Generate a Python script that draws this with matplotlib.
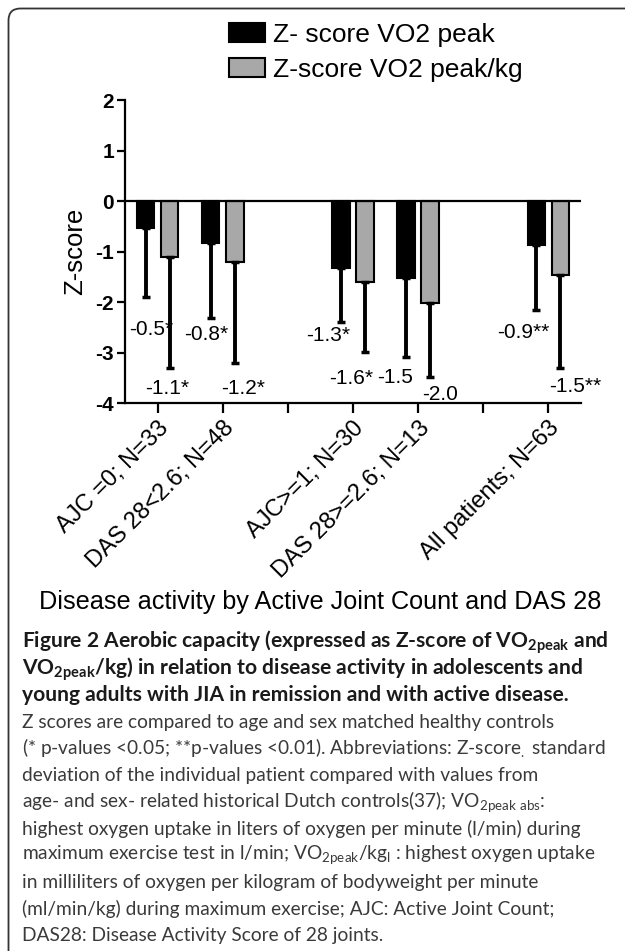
import numpy as np
import matplotlib
matplotlib.use("Agg")
import matplotlib.pyplot as plt
from matplotlib.patches import FancyBboxPatch

plt.rcParams['font.family'] = ['Liberation Sans', 'DejaVu Sans']
plt.rcParams['axes.unicode_minus'] = False
plt.rcParams['mathtext.fontset'] = 'custom'
plt.rcParams['mathtext.rm'] = 'Lato'
plt.rcParams['mathtext.bf'] = 'Lato:bold'

# groups on the x axis (blank slots are gaps between groups)
categories = ["AJC =0; N=33", "DAS 28<2.6; N=48", "", "AJC>=1; N=30", "DAS 28>=2.6; N=13", "", "All patients; N=63"]
group_slots = [0, 1, 3, 4, 6]

# Z-score VO2 peak (black) and VO2 peak/kg (grey), mean and lower end of the error bar
vo2_mean = [-0.53, -0.83, -1.33, -1.53, -0.88]
vo2_low = [-1.91, -2.31, -2.40, -3.09, -2.16]
vo2kg_mean = [-1.11, -1.21, -1.60, -2.01, -1.47]
vo2kg_low = [-3.31, -3.21, -2.99, -3.49, -3.30]

vo2_labels = ["-0.5*", "-0.8*", "-1.3*", "-1.5", "-0.9**"]
vo2kg_labels = ["-1.1*", "-1.2*", "-1.6*", "-2.0", "-1.5**"]

series_names = ["Z- score VO2 peak", "Z-score VO2 peak/kg"]

fig = plt.figure(figsize=(6.25, 9.51), dpi=100)
ax = fig.add_axes([0.2, 0.5762, 0.7296, 0.3186])

x = np.array(group_slots, dtype=float)
w = 0.27
off = 0.185

vo2_err = np.array(vo2_mean) - np.array(vo2_low)
vo2kg_err = np.array(vo2kg_mean) - np.array(vo2kg_low)

ax.bar(x - off, vo2_mean, w, color='black', edgecolor='black', linewidth=1.5, label=series_names[0], zorder=3)
ax.bar(x + off, vo2kg_mean, w, color='#a8a8a8', edgecolor='black', linewidth=1.5, label=series_names[1], zorder=3)
ax.errorbar(x - off, vo2_mean, yerr=[vo2_err, np.zeros(len(x))], fmt='none', ecolor='black',
            elinewidth=2.8, capsize=3, capthick=2.5, zorder=4)
ax.errorbar(x + off, vo2kg_mean, yerr=[vo2kg_err, np.zeros(len(x))], fmt='none', ecolor='black',
            elinewidth=2.8, capsize=3, capthick=2.5, zorder=4)
ax.axhline(0, color='black', lw=1.6, zorder=5)

# value labels under the bars (positions tweaked by hand like in the original)
lab_dx_black = [-0.1, -0.26, -0.38, -0.35, -0.38]
lab_y_black = [-2.55, -2.64, -2.66, -3.50, -2.61]
lab_dx_grey = [0.15, 0.32, -0.03, 0.34, 0.41]
lab_y_grey = [-3.71, -3.71, -3.51, -3.84, -3.67]
for i, xi in enumerate(x):
    ax.text(xi + lab_dx_black[i], lab_y_black[i], vo2_labels[i], ha='center', va='center', fontsize=15, zorder=6)
    ax.text(xi + lab_dx_grey[i], lab_y_grey[i], vo2kg_labels[i], ha='center', va='center', fontsize=15, zorder=6)

ax.set_xlim(-0.5, 6.5)
ax.set_ylim(-4, 2)
ax.set_yticks([2, 1, 0, -1, -2, -3, -4])
ax.set_xticks(range(len(categories)))
ax.set_xticklabels(categories, rotation=45, ha='right', va='top', rotation_mode='anchor', fontsize=17)
for t in ax.get_yticklabels():
    t.set_fontweight('bold')
ax.tick_params(axis='y', labelsize=15, width=1.6, length=6, pad=2)
ax.tick_params(axis='x', width=1.6, length=7, pad=3)
for s in ['top', 'right']:
    ax.spines[s].set_visible(False)
for s in ['left', 'bottom']:
    ax.spines[s].set_linewidth(1.6)
ax.set_ylabel("Z-score", fontsize=18.5, labelpad=6)

fig.text(0.512, 1 - 602 / 951, "Disease activity by Active Joint Count and DAS 28", ha='center', va='center', fontsize=18.2)

ax.legend(loc='upper left', bbox_to_anchor=(229 / 625, 1 - 23 / 951), bbox_transform=fig.transFigure,
          frameon=False, fontsize=19, handlelength=1.35, handleheight=0.75, handletextpad=0.3,
          labelspacing=0.4, borderpad=0, borderaxespad=0)

# caption
cap_bold = [
    r"Figure 2 Aerobic capacity (expressed as Z-score of VO$_\mathbf{2peak}$ and",
    r"VO$_\mathbf{2peak}$/kg) in relation to disease activity in adolescents and",
    "young adults with JIA in remission and with active disease.",
]
cap_text = [
    "Z scores are compared to age and sex matched healthy controls",
    r"(* p-values <0.05; **p-values <0.01). Abbreviations: Z-score$_{.}$ standard",
    "deviation of the individual patient compared with values from",
    r"age- and sex- related historical Dutch controls(37); VO$_\mathrm{2peak\ abs}$:",
    "highest oxygen uptake in liters of oxygen per minute (l/min) during",
    r"maximum exercise test in l/min; VO$_\mathrm{2peak}$/kg$_\mathrm{l}$ : highest oxygen uptake",
    "in milliliters of oxygen per kilogram of bodyweight per minute",
    "(ml/min/kg) during maximum exercise; AJC: Active Joint Count;",
    "DAS28: Disease Activity Score of 28 joints.",
]
y0 = 642
step = 26.7
for i, line in enumerate(cap_bold):
    fig.text(22 / 625, 1 - (y0 + i * step) / 951, line, ha='left', va='center',
             fontsize=15.1, fontweight='bold', family='Lato', color='#1a1a1a')
for i, line in enumerate(cap_text):
    fig.text(22 / 625, 1 - (y0 + (i + 3) * step) / 951, line, ha='left', va='center',
             fontsize=13.75, family='Lato', color='#3a3a3a')

# rounded frame, open to the right and bottom like the cropped original
frame = FancyBboxPatch((0.085, -1.0), 7.0, 9.51 - 0.085 + 1.0, boxstyle="round,pad=0,rounding_size=0.12",
                       transform=fig.dpi_scale_trans, facecolor='none', edgecolor='#333333', linewidth=1.3)
fig.add_artist(frame)

fig.savefig("out.png", dpi=100)
